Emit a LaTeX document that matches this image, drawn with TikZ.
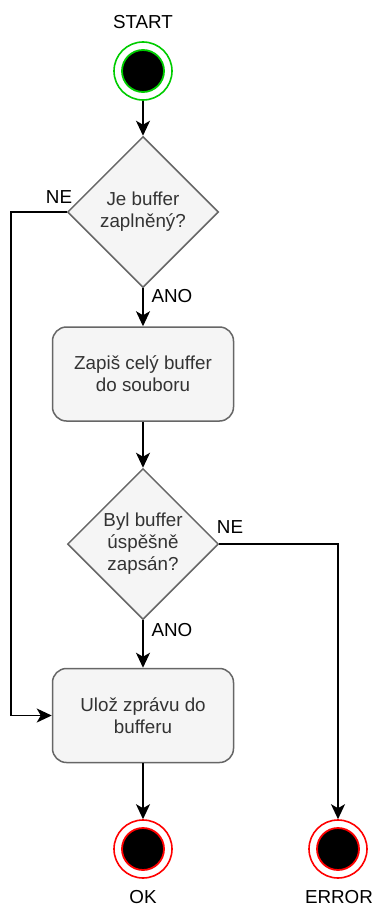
\documentclass[tikz,border=0pt]{standalone}
\usepackage{fontspec}
\setmainfont{Liberation Sans}
\usetikzlibrary{shapes.geometric,arrows.meta}
\definecolor{nodefill}{HTML}{F5F5F5}
\definecolor{nodedraw}{HTML}{666666}
\definecolor{nodetext}{HTML}{333333}
\definecolor{startgreen}{HTML}{00CC00}
\definecolor{endred}{HTML}{FF0000}
\begin{document}
\begin{tikzpicture}[x=1pt,y=-1pt, font=\fontsize{18.8}{22}\selectfont,
 proc/.style={rectangle, rounded corners=14, draw=nodedraw, fill=nodefill, text=nodetext, line width=1.5, minimum width=181, minimum height=94, align=center, inner sep=0},
 decision/.style={diamond, draw=nodedraw, fill=nodefill, text=nodetext, line width=1.5, minimum width=151, minimum height=151, align=center, inner sep=0},
 stateout/.style={circle, line width=1.6, minimum size=58, inner sep=0, fill=white},
 statein/.style={circle, line width=1.8, minimum size=42, inner sep=0, fill=black},
 flow/.style={line width=1.7, -{Stealth[length=15,width=14,inset=4]}},
 lbl/.style={inner sep=0, text=black}]
\useasboundingbox (0,0) rectangle (374,907);
% states
\node[lbl] (tstart) at (143,22) {START};
\node[stateout, draw=startgreen] (start) at (143,71) {};
\node[statein, draw=startgreen] (startin) at (143,71) {};
\node[stateout, draw=endred] (ok) at (143,849) {};
\node[statein, draw=endred] (okin) at (143,849) {};
\node[stateout, draw=endred] (err) at (338,849) {};
\node[statein, draw=endred] (errin) at (338,849) {};
\node[lbl] (tok) at (143,897) {OK};
\node[lbl] (terr) at (339,897) {ERROR};
% process nodes
\node[decision] (d1) at (143,212) {Je buffer\\zaplněný?};
\node[proc] (b1) at (143,374) {Zapiš celý buffer\\do souboru};
\node[decision] (d2) at (143,544) {Byl buffer\\úspěšně\\zapsán?};
\node[proc] (b2) at (143,715.5) {Ulož zprávu do\\bufferu};
% labels
\node[lbl] (ne1) at (59,197) {NE};
\node[lbl] (ano1) at (172,296) {ANO};
\node[lbl] (ne2) at (230,527) {NE};
\node[lbl] (ano2) at (172,630) {ANO};
% connectors
\coordinate (lc) at (11,212);
\draw[flow] (start) -- (d1);
\draw[flow] (d1) -- (b1);
\draw[flow] (b1) -- (d2);
\draw[flow] (d2) -- (b2);
\draw[flow] (b2) -- (ok);
\draw[flow] (d1.west) -- (lc) |- (b2.west);
\draw[flow] (d2.east) -| (err.north);
\end{tikzpicture}
\end{document}
